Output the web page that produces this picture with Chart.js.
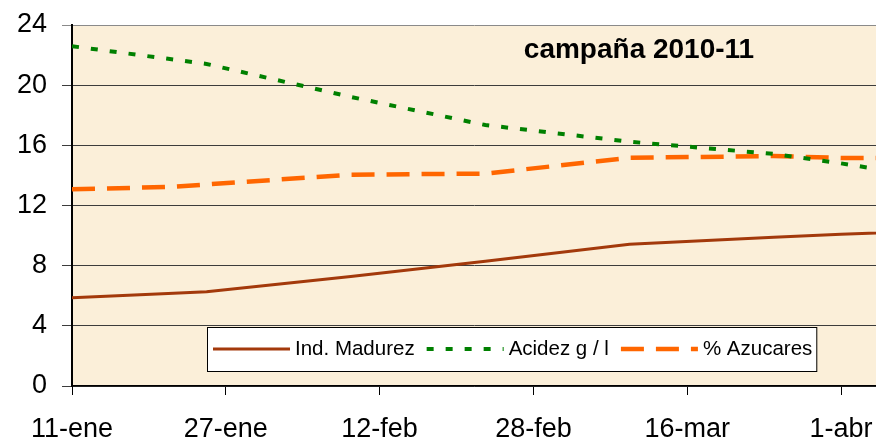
<!DOCTYPE html>
<html>
<head>
<meta charset="utf-8">
<script src="https://cdn.jsdelivr.net/npm/chart.js@4.4.1/dist/chart.umd.min.js"></script>
<style>
  html, body { margin: 0; padding: 0; background: #fff; overflow: hidden; }
  #wrap { width: 876px; height: 440px; position: relative; }
  canvas { display: block; }
</style>
</head>
<body>
<div id="wrap"><canvas id="myChart"></canvas></div>
<script>
// días contados desde el 11-ene (fechas de muestreo)
const days = [0, 10, 14, 29, 43, 58, 73, 80, 95];
const madurez = [5.87, 6.15, 6.27, 7.28, 8.29, 9.42, 9.89, 10.09, 10.4];
const acidez = [22.59, 21.75, 21.41, 19.22, 17.35, 16.24, 15.43, 14.8, 13.3];
const azucares = [13.08, 13.23, 13.4, 14.05, 14.12, 15.17, 15.29, 15.16, 15.16];

const tickDays = [0, 16, 32, 48, 64, 80];
const tickLabels = ['11-ene', '27-ene', '12-feb', '28-feb', '16-mar', '1-abr'];

const titulo = 'campaña 2010-11';
const FONT = '"Liberation Sans", Arial, sans-serif';

const toPoints = vals => days.map((d, i) => ({ x: d, y: vals[i] }));

const plotBg = {
  id: 'plotBg',
  beforeDraw(chart) {
    const { ctx, chartArea: a } = chart;
    ctx.save();
    ctx.fillStyle = '#FBEFD9';
    ctx.fillRect(a.left, a.top, a.right - a.left, a.bottom - a.top);
    ctx.restore();
  }
};

const boxLegend = {
  id: 'boxLegend',
  afterDraw(chart) {
    const { ctx, chartArea: a } = chart;
    const sets = chart.data.datasets;
    const left = a.left + 135, top = a.bottom - 59, h = 44;
    const sample = 77, gap = 5, itemGap = 12, pad = 6;
    ctx.save();
    ctx.font = '20.5px ' + FONT;
    let w = pad;
    sets.forEach((s, i) => {
      w += sample + gap + ctx.measureText(s.label).width + (i < sets.length - 1 ? itemGap : 4);
    });
    ctx.fillStyle = '#fff';
    ctx.fillRect(left, top, w, h);
    ctx.strokeStyle = '#000';
    ctx.lineWidth = 1;
    ctx.strokeRect(left + 0.5, top + 0.5, w, h);
    const cy = top + h / 2;
    let x = left + pad;
    sets.forEach(s => {
      ctx.beginPath();
      ctx.setLineDash(s.borderDash || []);
      ctx.lineWidth = s.borderWidth;
      ctx.strokeStyle = s.borderColor;
      ctx.lineCap = 'butt';
      ctx.moveTo(x, cy);
      ctx.lineTo(x + sample, cy);
      ctx.stroke();
      ctx.setLineDash([]);
      x += sample + gap;
      ctx.fillStyle = '#000';
      ctx.textBaseline = 'middle';
      ctx.textAlign = 'left';
      ctx.fillText(s.label, x, cy);
      x += ctx.measureText(s.label).width + itemGap;
    });
    ctx.restore();
  }
};

const plotTitle = {
  id: 'plotTitle',
  afterDraw(chart) {
    const { ctx, chartArea: a } = chart;
    ctx.save();
    ctx.font = 'bold 28px ' + FONT;
    ctx.fillStyle = '#000';
    ctx.textAlign = 'center';
    ctx.textBaseline = 'alphabetic';
    ctx.fillText(titulo, a.left + 567, a.top + 33);
    ctx.restore();
  }
};

new Chart(document.getElementById('myChart'), {
  type: 'line',
  data: {
    datasets: [
      {
        label: 'Ind. Madurez',
        data: toPoints(madurez),
        borderColor: '#A3390B',
        borderWidth: 3,
        pointRadius: 0
      },
      {
        label: 'Acidez g / l',
        data: toPoints(acidez),
        borderColor: '#008000',
        borderWidth: 4,
        borderDash: [7, 12],
        pointRadius: 0
      },
      {
        label: '% Azucares',
        data: toPoints(azucares),
        borderColor: '#FF6600',
        borderWidth: 4.5,
        borderDash: [23, 12],
        pointRadius: 0
      }
    ]
  },
  options: {
    responsive: true,
    maintainAspectRatio: false,
    animation: false,
    layout: { padding: { top: 25, left: 0, right: 0, bottom: 0 }, autoPadding: false },
    plugins: {
      legend: { display: false },
      tooltip: { enabled: false }
    },
    scales: {
      x: {
        type: 'linear',
        min: 0,
        max: 83.64,
        afterBuildTicks: scale => { scale.ticks = tickDays.map(v => ({ value: v })); },
        afterFit: scale => {
          scale.height = 54;
          scale.paddingLeft = 0;
          scale.paddingRight = 0;
        },
        ticks: {
          callback: v => tickLabels[tickDays.indexOf(v)],
          font: { family: FONT, size: 27 },
          color: '#000',
          padding: 18,
          maxRotation: 0,
          autoSkip: false
        },
        grid: { drawOnChartArea: false, tickLength: 9, color: '#000' },
        border: { color: '#000', width: 1.5 }
      },
      y: {
        min: 0,
        max: 24,
        afterFit: scale => {
          scale.width = 72;
          scale.paddingTop = 0;
          scale.paddingBottom = 0;
        },
        ticks: {
          stepSize: 4,
          font: { family: FONT, size: 27 },
          color: '#000',
          padding: 15
        },
        grid: {
          color: c => (c.tick && c.tick.value === 24 ? '#8a8a8a' : '#3c3c3c'),
          lineWidth: 1,
          tickLength: 10
        },
        border: { color: '#000', width: 2 }
      }
    }
  },
  plugins: [plotBg, boxLegend, plotTitle]
});
</script>
</body>
</html>
